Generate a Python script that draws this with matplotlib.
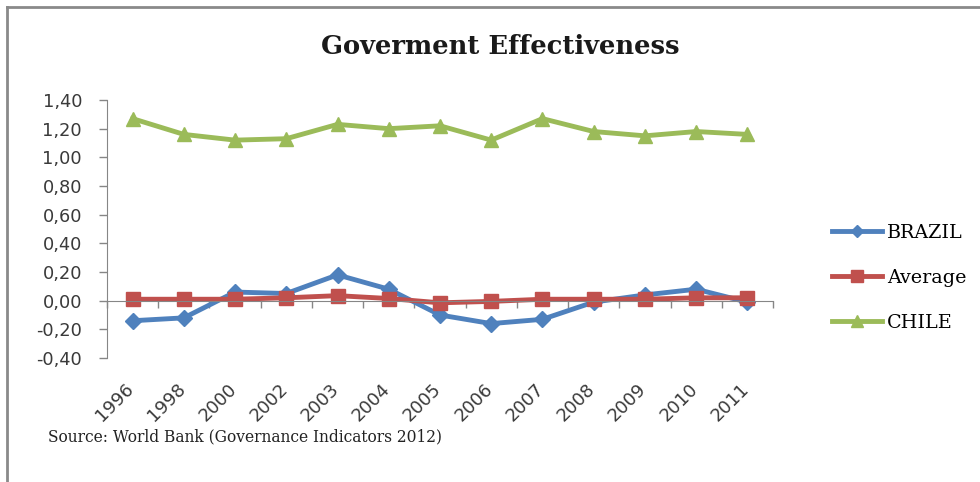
import matplotlib
matplotlib.use("Agg")
import matplotlib.pyplot as plt
from matplotlib.lines import Line2D
import numpy as np

years = ["1996", "1998", "2000", "2002", "2003", "2004", "2005", "2006", "2007", "2008", "2009", "2010", "2011"]
brazil = [-0.14, -0.12, 0.06, 0.05, 0.18, 0.08, -0.10, -0.16, -0.13, -0.01, 0.04, 0.08, -0.01]
average = [0.01, 0.01, 0.01, 0.02, 0.035, 0.015, -0.015, -0.005, 0.01, 0.01, 0.01, 0.02, 0.02]
chile = [1.27, 1.16, 1.12, 1.13, 1.23, 1.20, 1.22, 1.12, 1.27, 1.18, 1.15, 1.18, 1.16]
yticks = [-0.40, -0.20, 0.00, 0.20, 0.40, 0.60, 0.80, 1.00, 1.20, 1.40]

c_blue = "#4F81BD"
c_red = "#C0504D"
c_green = "#9BBB59"
c_axis = "#868686"

fig = plt.figure(figsize=(9.8, 4.82), dpi=100)
ax = fig.add_axes([107/980, 1-358/482, 666/980, 258/482])

x = np.arange(len(years))
ax.plot(x, brazil, color=c_blue, lw=3.5, marker="D", ms=8.5, label="BRAZIL", solid_joinstyle="round")
ax.plot(x, average, color=c_red, lw=3.5, marker="s", ms=10, label="Average", solid_joinstyle="round")
ax.plot(x, chile, color=c_green, lw=3.5, marker="^", ms=10.5, label="CHILE", solid_joinstyle="round")

ax.set_xlim(-0.5, len(years) - 0.5)
ax.set_ylim(-0.40, 1.40)
ax.set_yticks(yticks)
ax.set_yticklabels([f"{v:.2f}".replace(".", ",") for v in yticks],
                   fontsize=12.8, color="#3a3a3a", family="DejaVu Sans")
ax.tick_params(axis="y", direction="out", length=6, width=1, color=c_axis, pad=12)

for s in ["top", "right"]:
    ax.spines[s].set_visible(False)
ax.spines["left"].set_color(c_axis)
ax.spines["bottom"].set_color(c_axis)
ax.spines["bottom"].set_position(("data", 0))
ax.set_xticks(np.arange(len(years) + 1) - 0.5)
ax.set_xticklabels([])
ax.tick_params(axis="x", direction="out", length=5, width=1, color=c_axis)

for i, yr in enumerate(years):
    ax.text(i - 0.15, -0.555, yr, rotation=45, rotation_mode="anchor", ha="right", va="top",
            fontsize=13, color="#3a3a3a", family="DejaVu Sans")

handles = [
    Line2D([], [], color=c_blue, lw=3.5, marker="D", ms=6),
    Line2D([], [], color=c_red, lw=3.5, marker="s", ms=8),
    Line2D([], [], color=c_green, lw=3.5, marker="^", ms=8),
]
fig.legend(handles, ["BRAZIL", "Average", "CHILE"], loc="center left",
           bbox_to_anchor=(815/980, 1-278/482), frameon=False,
           prop={"family": "DejaVu Serif", "size": 13.8}, handlelength=2.6,
           handletextpad=0.25, labelspacing=1.4)

fig.text(500/980, 1-47/482, "Goverment Effectiveness", ha="center", va="center",
         fontsize=18.5, fontweight="bold", family="DejaVu Serif", color="#1a1a1a")
fig.text(48/980, 1-437/482, "Source: World Bank (Governance Indicators 2012)", ha="left",
         va="center", fontsize=11.2, family="DejaVu Serif", color="#222222")

# outer frame (top and left edges visible)
fig.add_artist(Line2D([7/980, 1.0], [1-7/482, 1-7/482], color="#8a8a8a", lw=2, transform=fig.transFigure))
fig.add_artist(Line2D([7/980, 7/980], [1-7/482, 0], color="#8a8a8a", lw=2, transform=fig.transFigure))

fig.savefig("out.png", dpi=100, facecolor="white")
